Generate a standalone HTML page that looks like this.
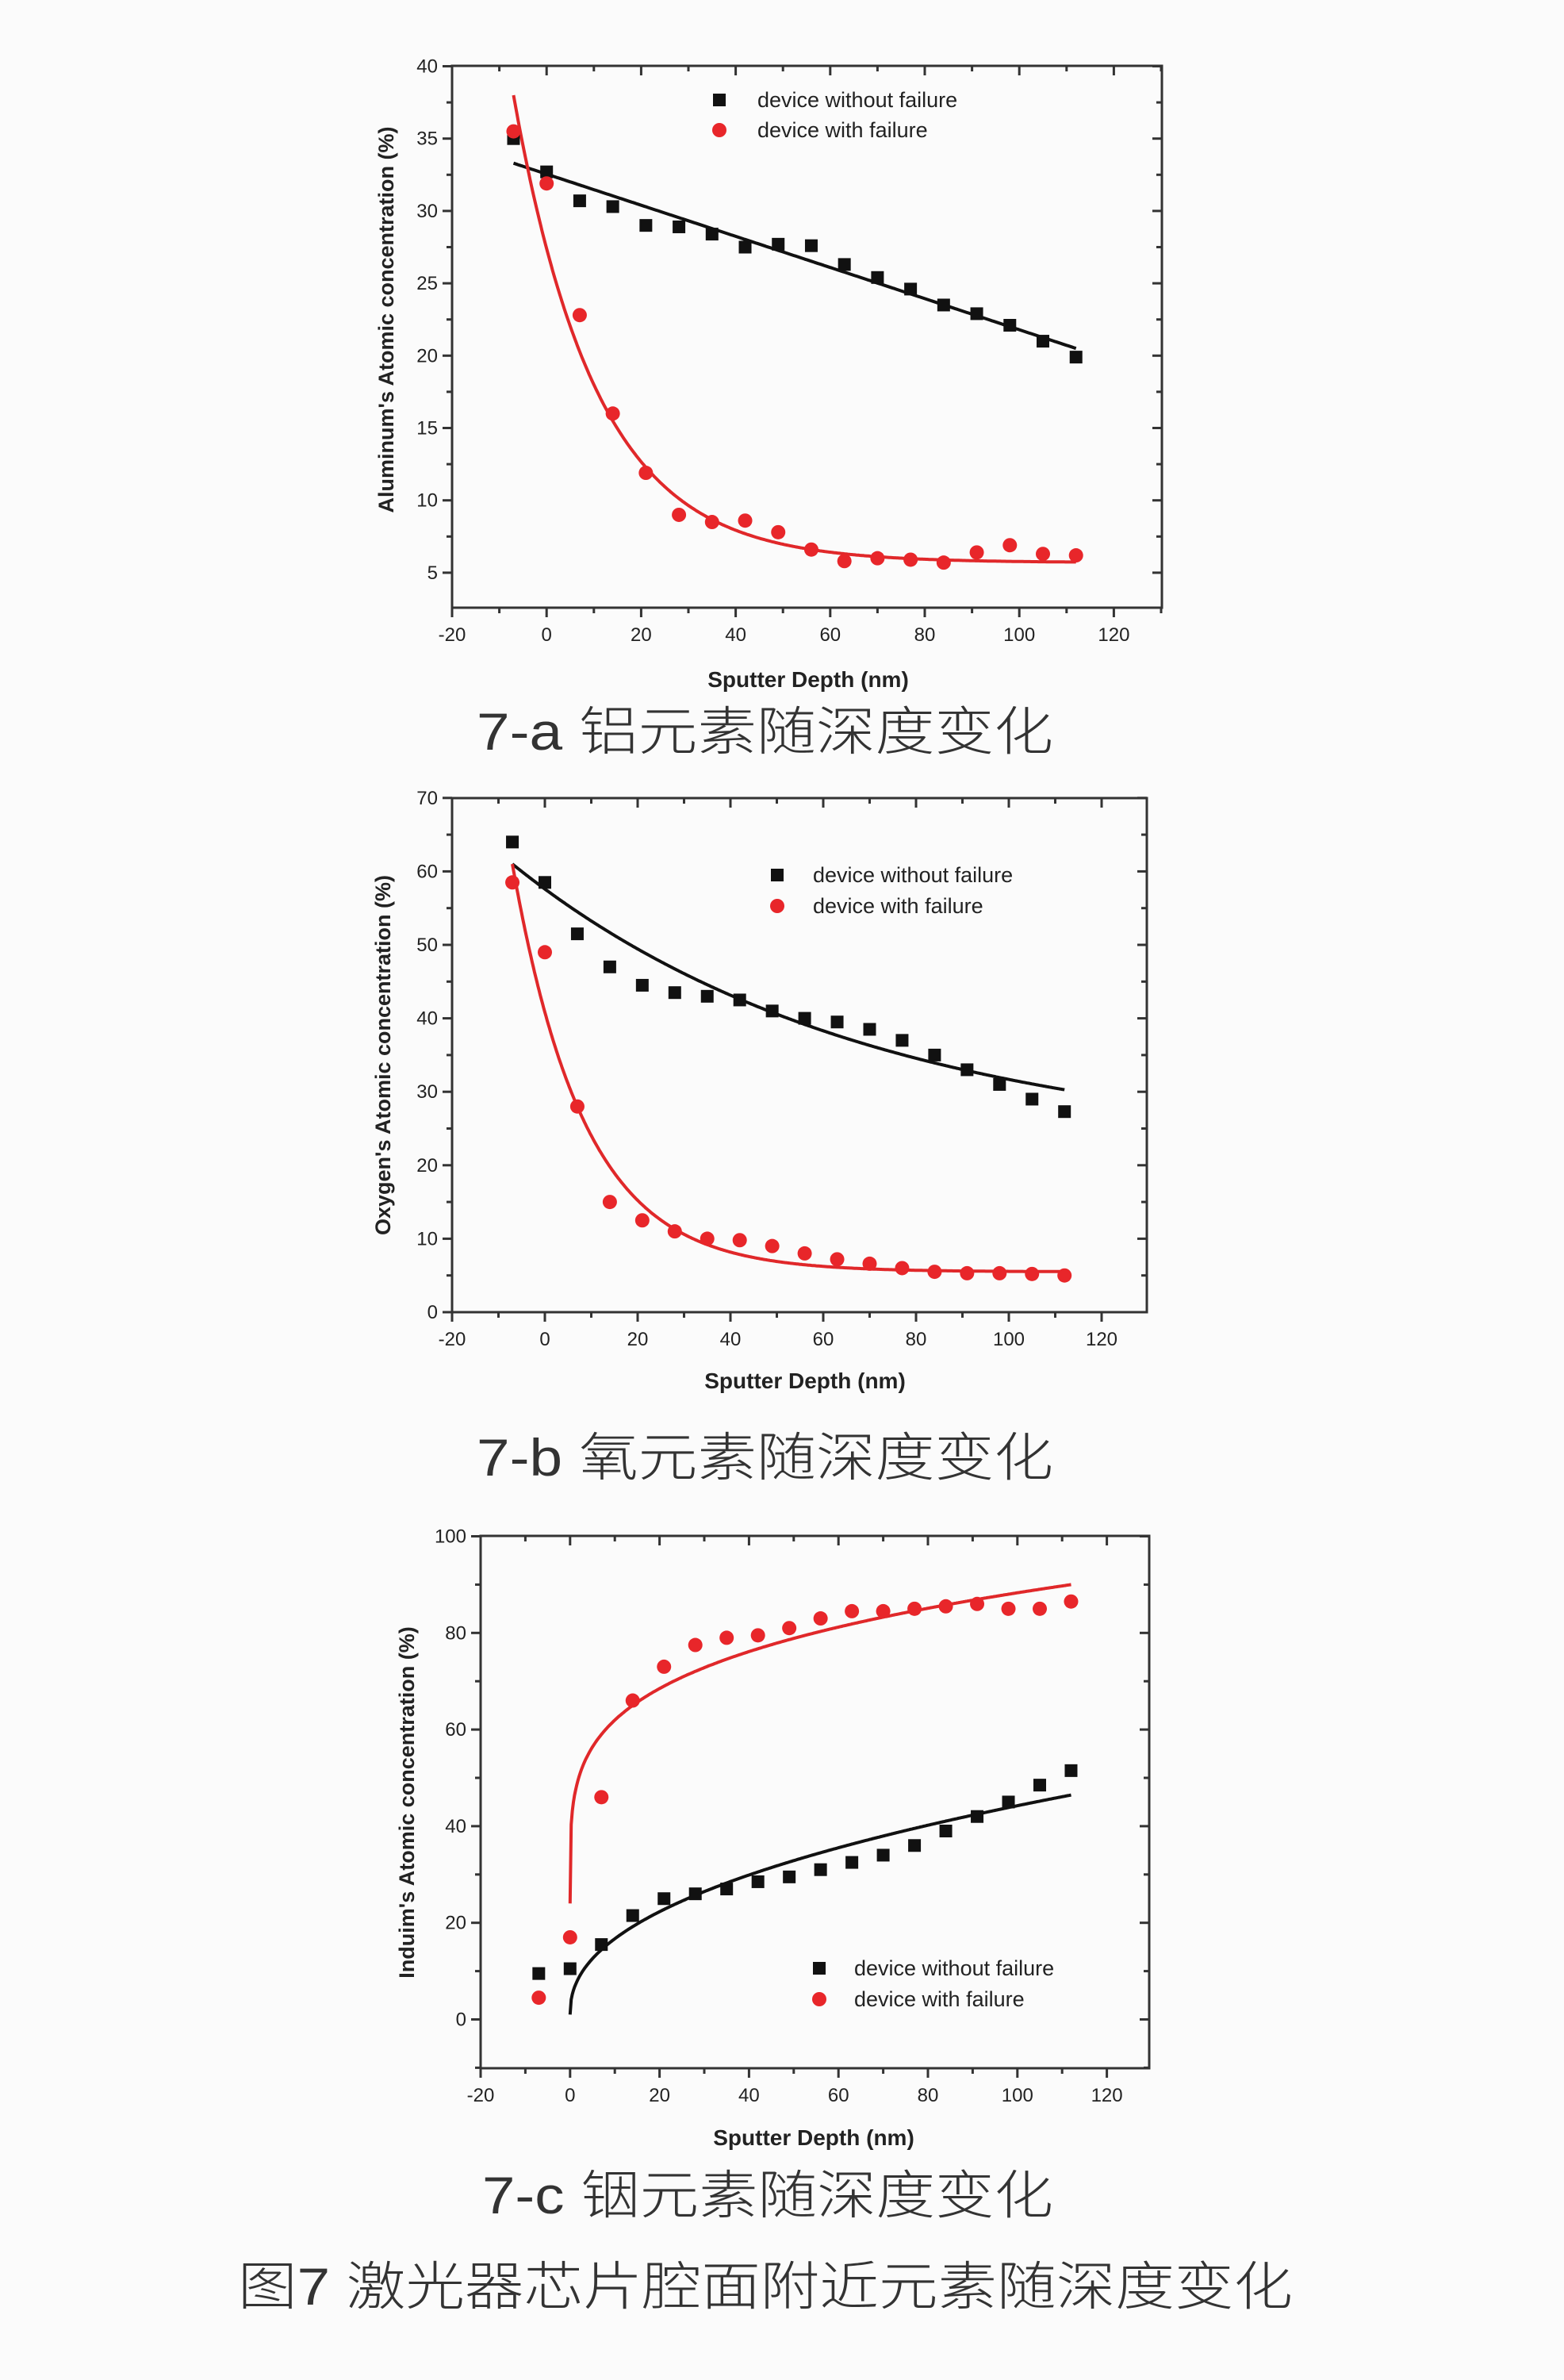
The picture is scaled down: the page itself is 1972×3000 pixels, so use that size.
<!DOCTYPE html>
<html><head><meta charset="utf-8">
<style>
html,body{margin:0;padding:0;background:#fbfbfb;}
svg{display:block;}
text{font-family:"Liberation Sans",sans-serif;fill:#222;}
.cap{font-family:"Liberation Sans","Noto Sans CJK SC",sans-serif;font-weight:300;fill:#333;}
</style></head>
<body>
<svg id="s" width="1972" height="3000" xmlns="http://www.w3.org/2000/svg">
<rect width="1972" height="3000" fill="#fbfbfb"/>
<text class="cap" x="601" y="945" font-size="66" textLength="727" lengthAdjust="spacingAndGlyphs">7-a 铝元素随深度变化</text>
<text class="cap" x="601" y="1860" font-size="66" textLength="727" lengthAdjust="spacingAndGlyphs">7-b 氧元素随深度变化</text>
<text class="cap" x="608" y="2790" font-size="66" textLength="720" lengthAdjust="spacingAndGlyphs">7-c 铟元素随深度变化</text>
<text class="cap" x="300" y="2905" font-size="66" textLength="1330" lengthAdjust="spacingAndGlyphs">图7  激光器芯片腔面附近元素随深度变化</text>
</svg>
<script>
const S=document.getElementById('s');const NS='http://www.w3.org/2000/svg';
function el(t,a,txt){const e=document.createElementNS(NS,t);for(const k in a)e.setAttribute(k,a[k]);if(txt!==undefined)e.textContent=txt;S.appendChild(e);return e;}
const xs=[];for(let x=-7;x<=112;x+=7)xs.push(x);
function chart(c){
 const X=v=>c.x0+(v+20)*c.sx, Y=v=>c.y0-(v-c.ymin0)*c.sy;
 el('rect',{x:c.L,y:c.T,width:c.R-c.L,height:c.B-c.T,fill:'none',stroke:'#333','stroke-width':3});
 for(let v=-20;v<=130;v+=10){const px=X(v);if(px>c.R)break;const maj=v%20==0;
  el('line',{x1:px,y1:c.B,x2:px,y2:c.B+(maj?12:7),stroke:'#333','stroke-width':3});
  el('line',{x1:px,y1:c.T,x2:px,y2:c.T+(maj?12:7),stroke:'#333','stroke-width':3});
  if(maj&&v<=120)el('text',{x:px,y:c.B+42,'font-size':24,'text-anchor':'middle'},v);}
 for(let v=c.ymin;v<=c.ymax+0.01;v+=c.ystep/2){const py=Y(v);if(py<c.T-1||py>c.B+1)continue;const maj=Math.abs((v-c.ylab0)/c.ystep-Math.round((v-c.ylab0)/c.ystep))<0.01;
  el('line',{x1:c.L,y1:py,x2:c.L-(maj?12:7),y2:py,stroke:'#333','stroke-width':3});
  el('line',{x1:c.R,y1:py,x2:c.R-(maj?12:7),y2:py,stroke:'#333','stroke-width':3});
  if(maj)el('text',{x:c.L-18,y:py+8,'font-size':24,'text-anchor':'end'},v);}
 el('text',{x:c.xlx,y:c.xly,'font-size':28,'text-anchor':'middle','font-weight':'bold','fill':'#333'},'Sputter Depth (nm)');
 el('text',{x:0,y:0,'font-size':27,'text-anchor':'middle','font-weight':'bold',transform:`translate(${c.ylx},${c.yly}) rotate(-90)`,fill:'#333'},c.ylabel);
 for(const f of c.fits){let d='';for(let v=f.a;v<=f.b+1e-9;v+=0.25){d+=(d?'L':'M')+X(v).toFixed(1)+','+Y(f.f(v)).toFixed(1);}
  el('path',{d,fill:'none',stroke:f.col,'stroke-width':4});}
 c.blk.forEach((v,i)=>el('rect',{x:X(xs[i])-8,y:Y(v)-8,width:16,height:16,fill:'#111'}));
 c.red.forEach((v,i)=>el('circle',{cx:X(xs[i]),cy:Y(v),r:9,fill:'#e8262a'}));
 const g=c.leg;
 el('rect',{x:g.x-8,y:g.y1-8,width:16,height:16,fill:'#111'});
 el('circle',{cx:g.x,cy:g.y2,r:9,fill:'#e8262a'});
 el('text',{x:g.tx,y:g.y1+9,'font-size':27},'device without failure');
 el('text',{x:g.tx,y:g.y2+9,'font-size':27},'device with failure');
}
// Chart a
chart({L:570,R:1465,T:83,B:766,x0:570,sx:5.96,y0:83.5,ymin0:40,sy:18.24,ymin:2.5,ymax:40,ystep:5,ylab0:5,
 xlx:1019,xly:866,ylx:496,yly:403,ylabel:"Aluminum's Atomic concentration (%)",
 blk:[35,32.7,30.7,30.3,29,28.9,28.4,27.5,27.7,27.6,26.3,25.4,24.6,23.5,22.9,22.1,21,19.9],
 red:[35.5,31.9,22.8,16,11.9,9,8.5,8.6,7.8,6.6,5.8,6,5.9,5.7,6.4,6.9,6.3,6.2],
 fits:[{a:-7,b:112,col:'#111',f:v=>33.3+(20.5-33.3)*(v+7)/119},{a:-7,b:112,col:'#e0282a',f:v=>5.7+32.3*Math.exp(-(v+7)/17.6)}],
 leg:{x:907,y1:126,y2:164,tx:955}});
// Chart b
chart({L:570,R:1446,T:1006,B:1654,x0:570,sx:5.85,y0:1654,ymin0:0,sy:9.26,ymin:0,ymax:70,ystep:10,ylab0:0,
 xlx:1015,xly:1750,ylx:492,yly:1330,ylabel:"Oxygen's Atomic concentration (%)",
 blk:[64,58.5,51.5,47,44.5,43.5,43,42.5,41,40,39.5,38.5,37,35,33,31,29,27.3],
 red:[58.5,49,28,15,12.5,11,10,9.8,9,8,7.2,6.6,6,5.5,5.3,5.3,5.2,5],
 fits:[{a:-7,b:112,col:'#111',f:v=>22+39*Math.exp(-(v+7)/76.8)},{a:-7,b:112,col:'#e0282a',f:v=>5.5+55.5*Math.exp(-(v+7)/15.5)}],
 leg:{x:980,y1:1103,y2:1142,tx:1025}});
// Chart c
chart({L:606,R:1449,T:1936,B:2607,x0:606,sx:5.64,y0:2545.5,ymin0:0,sy:6.09,ymin:-10,ymax:100,ystep:20,ylab0:0,
 xlx:1026,xly:2704,ylx:522,yly:2272,ylabel:"Induim's Atomic concentration (%)",
 blk:[9.5,10.5,15.5,21.5,25,26,27,28.5,29.5,31,32.5,34,36,39,42,45,48.5,51.5],
 red:[4.5,17,46,66,73,77.5,79,79.5,81,83,84.5,84.5,85,85.5,86,85,85,86.5],
 fits:[{a:0,b:112,col:'#111',f:v=>1+5.7*Math.pow(v,0.44)},{a:0,b:112,col:'#e0282a',f:v=>24+22.4*Math.pow(v,0.229)}],
 leg:{x:1033,y1:2481,y2:2520,tx:1077}});
</script>
</body></html>
